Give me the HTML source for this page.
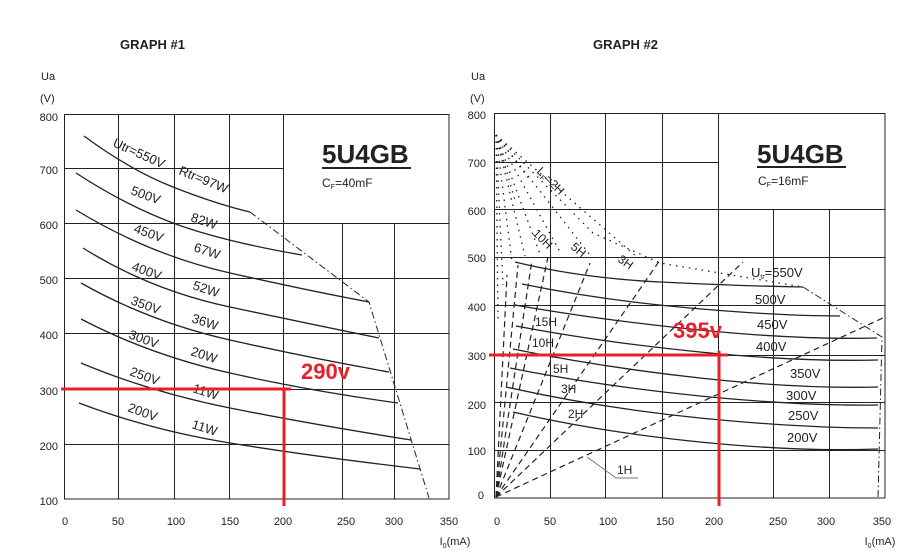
<!DOCTYPE html>
<html><head><meta charset="utf-8"><style>
body{margin:0;background:#fff;}
svg{display:block;font-family:"Liberation Sans",sans-serif;}
</style></head><body>
<svg width="914" height="560" viewBox="0 0 914 560" xmlns="http://www.w3.org/2000/svg">
<g font-weight="bold" font-size="13" fill="#222">
<text x="120" y="49">GRAPH #1</text>
<text x="593" y="49">GRAPH #2</text>
</g>
<g font-size="11" fill="#222">
<text x="41" y="80">Ua</text><text x="40" y="102">(V)</text>
<text x="471" y="80">Ua</text><text x="470" y="102">(V)</text>
</g>
<!-- GRAPH 1 grid -->
<g stroke="#222" stroke-width="1" fill="none">
<rect x="64.5" y="114.5" width="384.5" height="384.5"/>
<path d="M118.5 114V499M174.5 114V499M229.5 114V499M283.5 114V499M342.5 223V499M394.5 223V499"/>
<path d="M64 168.5H283M64 223.5H449M64 278.5H449M64 333.5H449M64 389.5H449M64 444.5H449"/>
</g>
<g font-size="11" fill="#222" text-anchor="end">
<text x="58" y="121">800</text><text x="58" y="174">700</text><text x="58" y="229">600</text><text x="58" y="284">500</text><text x="58" y="339">400</text><text x="58" y="395">300</text><text x="58" y="450">200</text><text x="58" y="505">100</text>
</g>
<g font-size="11" fill="#222" text-anchor="middle">
<text x="65" y="525">0</text><text x="118" y="525">50</text><text x="176" y="525">100</text><text x="230" y="525">150</text><text x="283" y="525">200</text><text x="346" y="525">250</text><text x="394" y="525">300</text><text x="449" y="525">350</text>
<text x="455" y="545">I<tspan font-size="7" dy="3">0</tspan><tspan dy="-3">(mA)</tspan></text>
</g>
<g stroke="#222" stroke-width="1.3" fill="none">
<path d="M84 136Q130 170 173 187T250 212"/>
<path d="M76 173Q125 205 173 223T302 255"/>
<path d="M76 210Q150 255 230 273T369 302"/>
<path d="M83 248Q150 290 230 307T379 338"/>
<path d="M81 283Q150 322 230 340T389 372"/>
<path d="M81 319Q150 355 230 373T398 403"/>
<path d="M81 363Q150 392 230 408T411 440"/>
<path d="M79 403Q150 430 230 443T420 469"/>
<path d="M250 212L369 302L429 498" stroke-dasharray="7 3 1.5 3" stroke-width="1"/>
</g>
<g font-size="13" fill="#222">
<text transform="translate(112,146) rotate(24)">Utr=550V</text>
<text transform="translate(178,174) rotate(22)">Rtr=97W</text>
<text transform="translate(130,194) rotate(20)">500V</text><text transform="translate(190,221) rotate(18)">82W</text>
<text transform="translate(133,232) rotate(20)">450V</text><text transform="translate(193,251) rotate(18)">67W</text>
<text transform="translate(131,270) rotate(20)">400V</text><text transform="translate(192,289) rotate(18)">52W</text>
<text transform="translate(130,304) rotate(20)">350V</text><text transform="translate(191,322) rotate(18)">36W</text>
<text transform="translate(128,338) rotate(20)">300V</text><text transform="translate(190,355) rotate(18)">20W</text>
<text transform="translate(129,375) rotate(20)">250V</text><text transform="translate(192,392) rotate(18)">11W</text>
<text transform="translate(127,411) rotate(20)">200V</text><text transform="translate(191,428) rotate(18)">11W</text>
</g>
<text x="322" y="163" font-size="26" font-weight="bold" fill="#222">5U4GB</text>
<rect x="322" y="167" width="89" height="2" fill="#222"/>
<text x="322" y="187" font-size="12" fill="#222">C<tspan font-size="7" dy="2">F</tspan><tspan dy="-2">=40mF</tspan></text>
<g stroke="#e8202a" stroke-width="3"><path d="M61 389H291M284 388V506"/></g>
<text x="301" y="379" font-size="22" font-weight="bold" fill="#e8202a">290v</text>

<!-- GRAPH 2 grid -->
<g stroke="#222" stroke-width="1" fill="none">
<rect x="494.5" y="113.5" width="390.5" height="384.5"/>
<path d="M550.5 113V498M605.5 113V498M662.5 113V498M718.5 113V498M773.5 209V498M829.5 209V498"/>
<path d="M494 162.5H718M494 209.5H885M494 257.5H885M494 305.5H885M494 355.5H885M494 402.5H885M494 450.5H885"/>
</g>
<g font-size="11" fill="#222" text-anchor="end">
<text x="486" y="119">800</text><text x="486" y="167">700</text><text x="486" y="215">600</text><text x="486" y="262">500</text><text x="486" y="311">400</text><text x="486" y="360">300</text><text x="486" y="409">200</text><text x="486" y="455">100</text><text x="484" y="499">0</text>
</g>
<g font-size="11" fill="#222" text-anchor="middle">
<text x="497" y="525">0</text><text x="550" y="525">50</text><text x="608" y="525">100</text><text x="665" y="525">150</text><text x="714" y="525">200</text><text x="778" y="525">250</text><text x="826" y="525">300</text><text x="882" y="525">350</text>
<text x="880" y="545">I<tspan font-size="7" dy="3">0</tspan><tspan dy="-3">(mA)</tspan></text>
</g>
<!-- dotted fan -->
<g stroke="#222" stroke-width="1.3" fill="none" stroke-dasharray="1.5 5">
<path d="M496 135L593 233L660 263L803 287"/>
<path d="M496 135L637 257"/>
<path d="M496 135L590 255"/>
<path d="M496 135L560 252"/>
<path d="M496 135L540 254"/>
<path d="M496 135L525 256"/>
<path d="M496 135L512 262"/>
<path d="M496 135L503 285"/>
<path d="M496 135L498 320"/>
<path d="M496 135L530 180"/>
<path d="M496 135L515 200"/>
</g>
<!-- dashed fan -->
<g stroke="#222" stroke-width="1.2" fill="none" stroke-dasharray="6 4">
<path d="M496 497L885 317"/>
<path d="M496 497L743 262"/>
<path d="M496 497L660 260"/>
<path d="M496 497L590 263"/>
<path d="M496 497L548 257"/>
<path d="M496 497L532 260"/>
<path d="M496 497L518 265"/>
<path d="M496 497L507 275"/>
</g>
<g stroke="#222" stroke-width="1.3" fill="none">
<path d="M515 262Q580 278 660 282T803 287"/>
<path d="M522 284Q600 300 690 308T840 316"/>
<path d="M515 305Q600 320 700 330T877 338"/>
<path d="M516 326Q600 342 700 352T878 360"/>
<path d="M513 349Q600 367 700 378T878 387"/>
<path d="M510 368Q600 386 700 396T878 405"/>
<path d="M506 387Q600 408 700 418T878 428"/>
<path d="M513 412Q600 432 700 442T878 449"/>
<path d="M803 287L882 337L878 498" stroke-dasharray="7 3 1.5 3" stroke-width="1"/>
<path d="M587 457L616 478H638" stroke="#777" stroke-width="1"/>
</g>
<g font-size="12" fill="#222">
<text transform="translate(536,172) rotate(45)">L<tspan font-size="7" dy="2">F</tspan><tspan dy="-2">=2H</tspan></text>
<text transform="translate(532,234) rotate(45)">10H</text>
<text transform="translate(570,248) rotate(40)">5H</text>
<text transform="translate(617,261) rotate(35)">3H</text>
<text x="535" y="326">15H</text><text x="532" y="347">10H</text>
<text x="553" y="373">5H</text><text x="561" y="393">3H</text><text x="568" y="418">2H</text>
<text x="617" y="474">1H</text>
</g>
<g font-size="13" fill="#222">
<text x="751" y="277">U<tspan font-size="7" dy="2">tr</tspan><tspan dy="-2">=550V</tspan></text>
<text x="755" y="304">500V</text><text x="757" y="329">450V</text><text x="756" y="351">400V</text>
<text x="790" y="378">350V</text><text x="786" y="400">300V</text><text x="788" y="420">250V</text><text x="787" y="442">200V</text>
</g>
<text x="757" y="163" font-size="26" font-weight="bold" fill="#222">5U4GB</text>
<rect x="757" y="166" width="89" height="2" fill="#222"/>
<text x="758" y="185" font-size="12" fill="#222">C<tspan font-size="7" dy="2">F</tspan><tspan dy="-2">=16mF</tspan></text>
<g stroke="#e8202a" stroke-width="3"><path d="M489 355H728M719 351V506"/></g>
<text x="673" y="338" font-size="22" font-weight="bold" fill="#e8202a">395v</text>
</svg>
</body></html>
